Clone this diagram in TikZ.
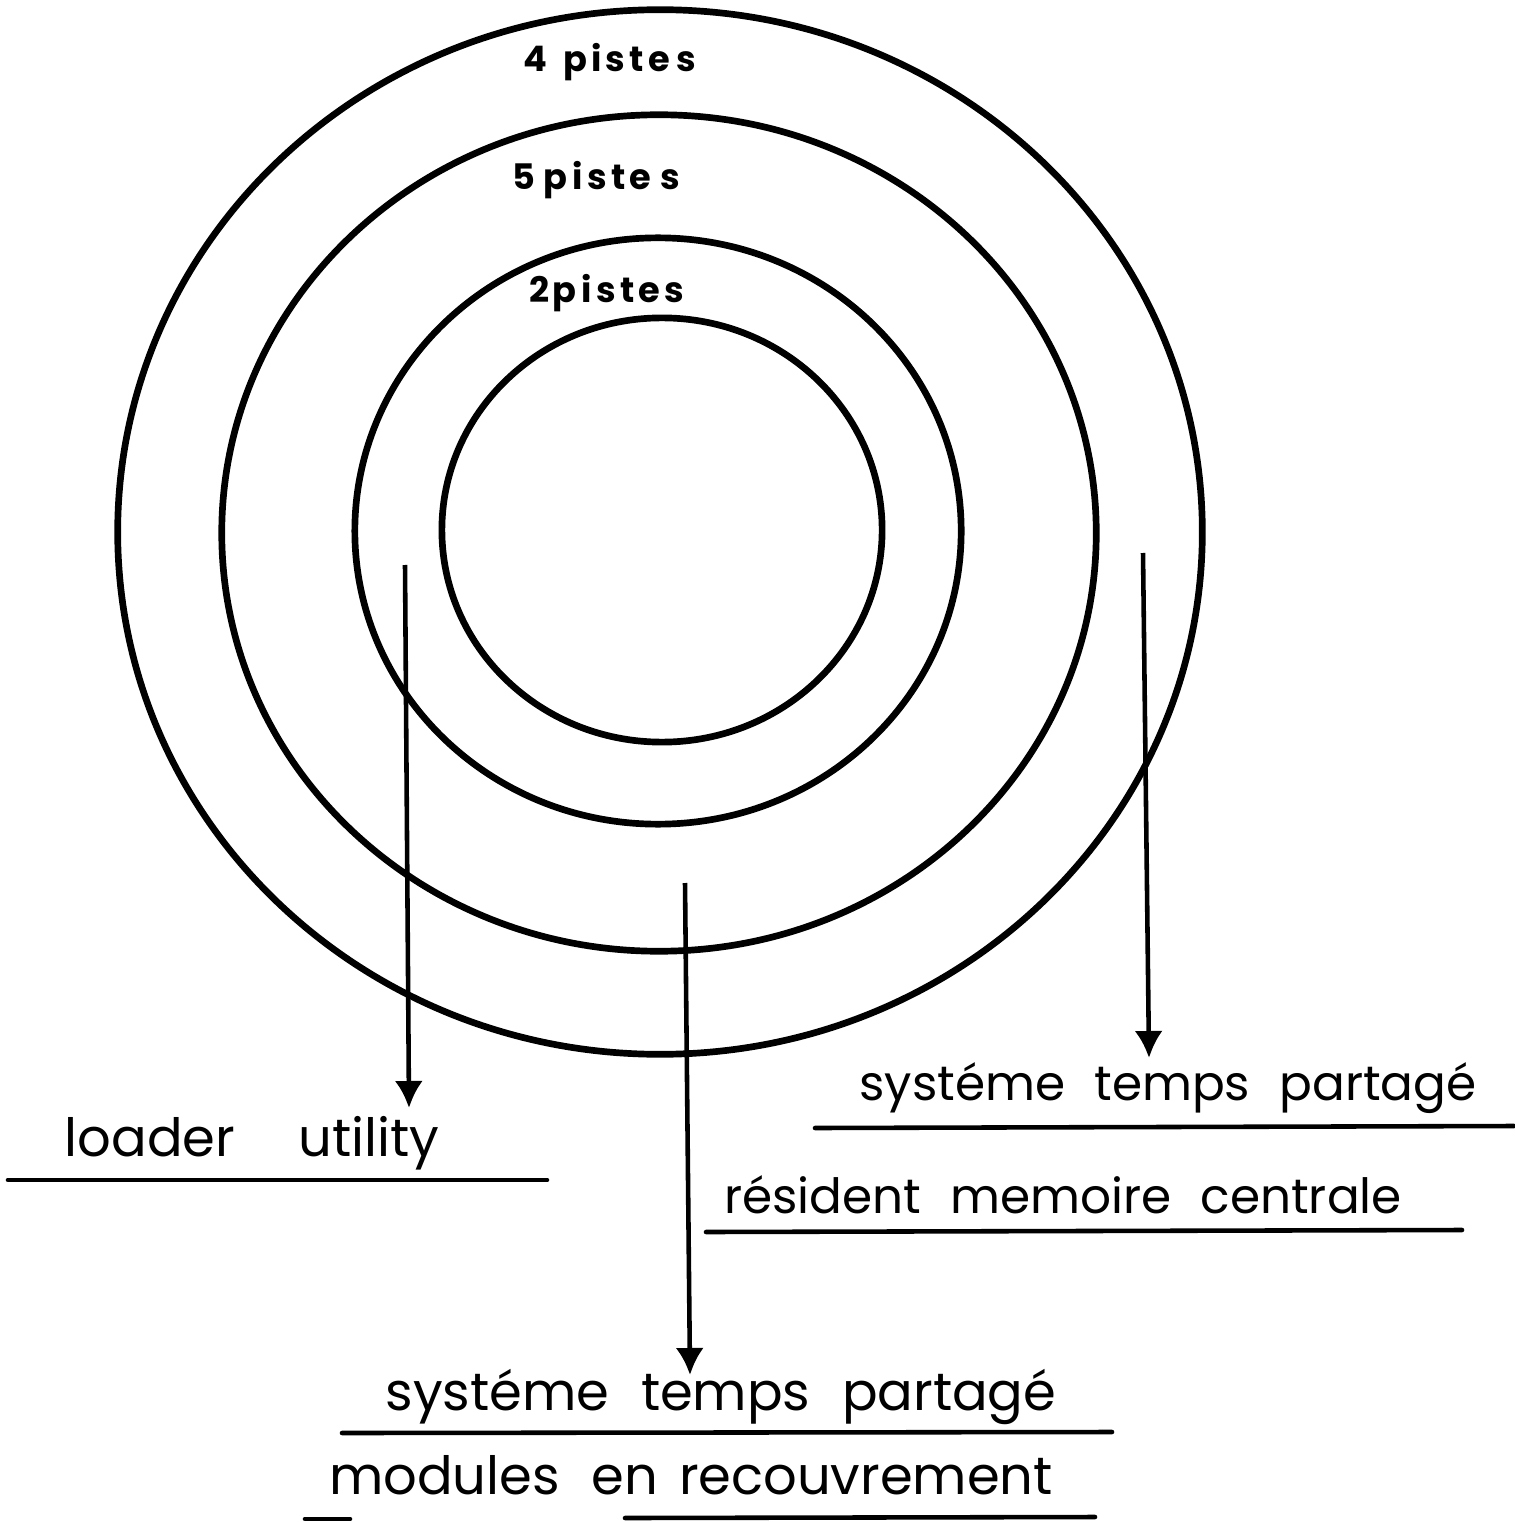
\documentclass[tikz,border=0pt]{standalone}
\usepackage{fontspec}
\setmainfont{Poppins}
\usetikzlibrary{arrows.meta,positioning}

\begin{document}
\begin{tikzpicture}[
  x=0.01cm, y=-0.01cm,
  ring/.style={line width=1.9pt},
  track/.style={font=\fontsize{10}{12}\selectfont\bfseries, inner sep=0pt},
  label/.style={font=\fontsize{15}{18}\selectfont, inner sep=0pt},
  smalllabel/.style={font=\fontsize{13.8}{16}\selectfont, inner sep=0pt},
  arrow/.style={-{Latex[length=0.27cm,width=0.28cm]}, line width=1.3pt},
  rule/.style={line width=1.3pt, line cap=round}
]
\useasboundingbox (0,0) rectangle (1514,1522);
% concentric tracks
\draw[ring] (660,532) ellipse [x radius=5.42cm, y radius=5.22cm];
\draw[ring] (659,533) ellipse [x radius=4.37cm, y radius=4.18cm];
\draw[ring] (658,531) ellipse [x radius=3.03cm, y radius=2.93cm];
\draw[ring] (662,530) ellipse [x radius=2.20cm, y radius=2.12cm];
\node[track] (p4) at (610,62) {4\hspace{0.45em}p\hspace{0.12em}i\hspace{0.12em}s\hspace{0.12em}t\hspace{0.12em}e\hspace{0.2em}s};
\node[track] (p5) at (596,180) {5\hspace{0.25em}p\hspace{0.15em}i\hspace{0.12em}s\hspace{0.12em}t\hspace{0.12em}e\hspace{0.25em}s};
\node[track] (p2) at (607,293) {2\hspace{0.08em}p\hspace{0.15em}i\hspace{0.12em}s\hspace{0.12em}t\hspace{0.12em}e\hspace{0.12em}s};
% labels
\node[label] (loader) at (252,1143) {loader\hspace{1.2em}utility};
\node[smalllabel] (stpa) at (1168,1088) {systéme\hspace{0.6em}temps\hspace{0.6em}partagé};
\node[smalllabel] (resid) at (1063,1195) {résident\hspace{0.6em}memoire\hspace{0.6em}centrale};
\node[label] (stpb) at (721,1397) {systéme\hspace{0.6em}temps\hspace{0.6em}partagé};
\node[label] (modul) at (691,1475) {modules\hspace{0.6em}en\hspace{0.4em}recouvrement};
% arrows
\coordinate (a1) at (405,565);
\coordinate (b1) at (409,1108);
\coordinate (a2) at (685,883);
\coordinate (b2) at (690,1375);
\coordinate (a3) at (1143,553);
\coordinate (b3) at (1149,1058);
\draw[arrow] (a1) -- (b1);
\draw[arrow] (a2) -- (b2);
\draw[arrow] (a3) -- (b3);
% underlines
\coordinate (u1) at (8,1180);    \coordinate (v1) at (547,1180);
\coordinate (u2) at (815,1128);  \coordinate (v2) at (1514,1126);
\coordinate (u3) at (706,1232);  \coordinate (v3) at (1462,1230);
\coordinate (u4) at (342,1433);  \coordinate (v4) at (1112,1432);
\coordinate (u5) at (305,1519);  \coordinate (v5) at (350,1519);
\coordinate (u6) at (625,1518);  \coordinate (v6) at (1095,1517);
\foreach \s/\e in {u1/v1,u2/v2,u3/v3,u4/v4,u5/v5,u6/v6}
  \draw[rule] (\s) -- (\e);
\end{tikzpicture}
\end{document}
